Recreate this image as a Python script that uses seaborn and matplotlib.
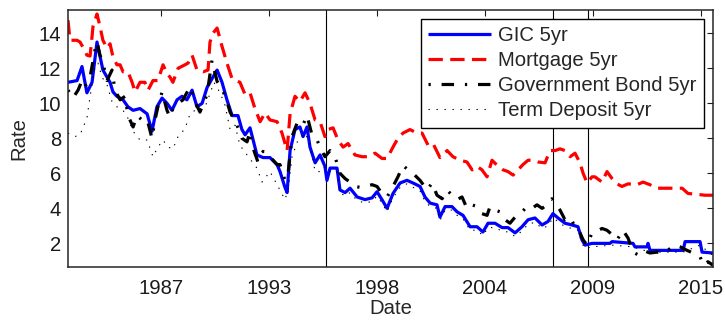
import numpy as np
import pandas as pd
import matplotlib
matplotlib.use("Agg")
import matplotlib.pyplot as plt
import matplotlib.dates as mdates
import seaborn as sns

# ---------------- data (decimal years, rates in %) ----------------
gic_year = [1983.00, 1983.46, 1983.71, 1983.96, 1984.22, 1984.47, 1984.77, 1985.13, 1985.28, 1985.48,
            1985.79, 1986.04, 1986.30, 1986.65, 1987.01, 1987.26, 1987.51, 1987.77, 1988.02, 1988.27,
            1988.53, 1988.78, 1989.03, 1989.29, 1989.54, 1989.80, 1990.05, 1990.35, 1990.56, 1990.81,
            1991.06, 1991.32, 1991.62, 1991.82, 1991.98, 1992.23, 1992.58, 1992.89, 1993.24, 1993.60,
            1993.75, 1994.00, 1994.11, 1994.26, 1994.51, 1994.76, 1994.92, 1995.12, 1995.27, 1995.53,
            1995.78, 1996.03, 1996.13, 1996.29, 1996.64, 1996.79, 1997.05, 1997.30, 1997.66, 1998.06,
            1998.42, 1998.67, 1998.92, 1999.18, 1999.48, 1999.84, 2000.19, 2000.49, 2000.85, 2001.10,
            2001.36, 2001.71, 2001.86, 2002.12, 2002.47, 2002.73, 2003.03, 2003.39, 2003.74, 2004.04,
            2004.30, 2004.65, 2005.01, 2005.31, 2005.67, 2006.02, 2006.33, 2006.68, 2007.04, 2007.34,
            2007.59, 2007.85, 2008.20, 2008.56, 2008.86, 2009.06, 2009.22, 2009.57, 2010.48, 2010.59,
            2011.65, 2011.75, 2012.36, 2012.41, 2012.51, 2014.19, 2014.29, 2015.05, 2015.15, 2015.71]
gic_rate = [11.2, 11.3, 12.1, 10.6, 11.2, 13.5, 11.9, 11.2, 10.65, 10.4,
            10.2, 9.8, 9.6, 9.7, 9.4, 8.4, 9.8, 10.3, 10.0, 9.6,
            10.2, 10.4, 10.2, 10.75, 9.8, 10.0, 10.9, 11.5, 11.9, 11.2,
            10.2, 9.3, 9.3, 8.5, 8.2, 8.6, 7.05, 6.9, 6.9, 6.5,
            6.1, 5.2, 4.9, 7.3, 8.5, 8.65, 8.1, 8.65, 7.5, 6.6,
            7.05, 6.4, 5.6, 6.3, 6.3, 5.05, 4.9, 5.15, 4.65, 4.5,
            4.6, 4.95, 4.5, 4.0, 4.85, 5.45, 5.6, 5.45, 5.25, 4.65,
            4.3, 4.2, 3.5, 4.1, 4.1, 3.8, 3.6, 2.95, 2.95, 2.65,
            3.15, 3.15, 2.9, 2.9, 2.6, 2.95, 3.35, 3.45, 3.05, 3.25,
            3.7, 3.45, 3.15, 3.05, 2.95, 2.2, 1.9, 2.0, 2.0, 2.1,
            2.0, 1.8, 1.8, 2.0, 1.6, 1.6, 2.1, 2.1, 1.5, 1.45]

mort_year = [1983.00, 1983.10, 1983.46, 1983.61, 1983.76, 1983.96, 1984.12, 1984.27, 1984.47, 1984.62,
             1984.77, 1984.98, 1985.13, 1985.28, 1985.48, 1985.64, 1985.79, 1986.04, 1986.25, 1986.40,
             1986.65, 1986.90, 1987.06, 1987.31, 1987.56, 1987.82, 1988.02, 1988.17, 1988.32, 1988.58,
             1988.93, 1989.09, 1989.29, 1989.54, 1989.85, 1990.10, 1990.20, 1990.35, 1990.56, 1990.81,
             1991.06, 1991.32, 1991.72, 1991.98, 1992.23, 1992.48, 1992.74, 1992.99, 1993.24, 1993.60,
             1993.85, 1994.11, 1994.26, 1994.51, 1994.76, 1995.02, 1995.27, 1995.53, 1995.78, 1996.03,
             1996.18, 1996.44, 1996.69, 1996.95, 1997.20, 1997.55, 1997.91, 1998.21, 1998.57, 1998.92,
             1999.18, 1999.48, 1999.73, 1999.99, 2000.34, 2000.70, 2000.95, 2001.26, 2001.51, 2001.86,
             2002.22, 2002.52, 2002.88, 2003.23, 2003.49, 2003.74, 2003.99, 2004.25, 2004.50, 2004.81,
             2005.06, 2005.31, 2005.57, 2005.82, 2006.07, 2006.33, 2006.58, 2006.83, 2007.19, 2007.44,
             2007.70, 2007.95, 2008.20, 2008.46, 2008.71, 2008.96, 2009.12, 2009.32, 2009.57, 2009.72,
             2010.08, 2010.33, 2010.59, 2010.84, 2011.09, 2011.40, 2011.85, 2012.16, 2012.51, 2012.87,
             2013.37, 2013.78, 2014.14, 2014.44, 2014.90, 2015.30, 2015.71]
mort_rate = [14.75, 13.6, 13.6, 13.5, 13.2, 12.75, 12.7, 14.4, 15.1, 14.4,
             13.6, 13.15, 13.4, 12.65, 12.2, 12.2, 11.8, 11.8, 11.2, 10.65,
             11.2, 11.2, 10.75, 11.3, 11.3, 12.2, 11.7, 11.5, 11.2, 12.0,
             12.2, 12.3, 12.75, 11.9, 11.8, 11.9, 13.5, 14.0, 14.3, 13.25,
             12.3, 11.4, 11.2, 10.5, 10.6, 9.7, 8.95, 9.45, 9.05, 8.95,
             8.3, 7.3, 9.4, 10.4, 10.1, 10.6, 10.0, 9.05, 8.95, 8.1,
             8.5, 8.6, 7.9, 7.5, 7.7, 7.05, 6.95, 6.95, 7.15, 6.85,
             6.85, 7.5, 8.0, 8.3, 8.5, 8.3, 8.3, 7.6, 7.7, 6.9,
             7.3, 6.95, 6.75, 6.65, 6.2, 6.4, 6.2, 5.8, 6.75, 6.4,
             6.2, 6.1, 5.9, 6.2, 6.5, 6.75, 6.75, 6.65, 6.6, 7.3,
             7.3, 7.4, 7.3, 6.95, 7.15, 6.6, 6.0, 5.45, 5.8, 5.8,
             5.5, 6.1, 5.7, 5.4, 5.25, 5.4, 5.35, 5.5, 5.35, 5.15,
             5.15, 5.15, 5.15, 4.85, 4.8, 4.75, 4.75]

bond_year = [1983.00, 1983.25, 1983.51, 1983.71, 1983.86, 1984.12, 1984.37, 1984.47, 1984.62, 1984.77,
             1984.98, 1985.23, 1985.38, 1985.64, 1985.89, 1986.04, 1986.30, 1986.50, 1986.75, 1987.01,
             1987.26, 1987.41, 1987.56, 1987.77, 1988.02, 1988.17, 1988.32, 1988.58, 1988.83, 1989.19,
             1989.44, 1989.69, 1990.05, 1990.30, 1990.56, 1990.81, 1991.06, 1991.22, 1991.57, 1991.82,
             1992.08, 1992.23, 1992.38, 1992.63, 1992.89, 1993.24, 1993.60, 1993.75, 1994.00, 1994.16,
             1994.36, 1994.61, 1994.87, 1995.12, 1995.37, 1995.63, 1995.78, 1996.03, 1996.29, 1996.54,
             1996.79, 1997.05, 1997.30, 1997.55, 1997.81, 1998.06, 1998.42, 1998.67, 1998.92, 1999.18,
             1999.48, 1999.73, 1999.99, 2000.24, 2000.49, 2000.85, 2001.21, 2001.46, 2001.71, 2001.97,
             2002.22, 2002.47, 2002.73, 2002.98, 2003.23, 2003.49, 2003.74, 2003.99, 2004.25, 2004.40,
             2004.65, 2004.91, 2005.16, 2005.41, 2005.67, 2006.02, 2006.28, 2006.53, 2006.78, 2007.04,
             2007.29, 2007.54, 2007.70, 2007.95, 2008.20, 2008.46, 2008.71, 2008.96, 2009.12, 2009.32,
             2009.57, 2009.72, 2010.08, 2010.33, 2010.59, 2010.84, 2011.14, 2011.40, 2011.65, 2011.90,
             2012.16, 2012.51, 2012.87, 2013.17, 2013.53, 2013.78, 2014.04, 2014.39, 2014.69, 2015.05,
             2015.20, 2015.45, 2015.71]
bond_rate = [10.75, 10.3, 10.75, 11.3, 10.95, 11.5, 13.05, 13.5, 12.75, 12.3,
             11.3, 11.9, 10.75, 10.2, 10.4, 9.3, 8.65, 9.3, 9.05, 9.1,
             8.0, 9.05, 9.8, 10.65, 9.6, 9.2, 9.7, 10.0, 10.2, 10.95,
             10.1, 9.5, 10.5, 12.45, 11.25, 10.85, 10.1, 9.5, 8.75, 8.0,
             7.8, 8.4, 7.45, 6.65, 7.25, 6.95, 6.5, 6.5, 5.6, 6.0,
             8.1, 8.85, 8.65, 9.3, 8.2, 7.9, 7.5, 6.95, 7.3, 6.95,
             6.0, 5.7, 5.5, 5.25, 5.2, 5.25, 5.35, 5.25, 4.85, 4.65,
             5.25, 5.8, 6.45, 6.2, 6.0, 5.6, 5.05, 5.45, 4.75, 4.55,
             5.05, 4.75, 4.5, 4.65, 4.0, 4.2, 4.1, 3.7, 3.6, 4.1,
             3.9, 3.8, 3.35, 3.15, 3.5, 3.8, 4.1, 4.0, 4.2, 4.0,
             4.2, 4.55, 4.3, 3.9, 3.35, 3.5, 2.95, 2.6, 2.2, 1.9,
             2.6, 2.65, 2.85, 2.75, 2.5, 2.2, 2.75, 2.3, 1.5, 1.35,
             1.6, 1.45, 1.5, 1.45, 1.7, 1.9, 1.8, 1.6, 1.45, 1.25,
             0.75, 0.95, 0.75]

term_year = [1983.00, 1983.35, 1983.61, 1983.96, 1984.12, 1984.37, 1984.52, 1984.72, 1984.98, 1985.23,
             1985.48, 1985.79, 1986.04, 1986.30, 1986.65, 1987.01, 1987.31, 1987.56, 1987.82, 1988.07,
             1988.32, 1988.58, 1988.93, 1989.19, 1989.44, 1989.69, 1989.95, 1990.20, 1990.40, 1990.71,
             1990.96, 1991.22, 1991.47, 1991.72, 1992.08, 1992.58, 1992.84, 1993.24, 1993.65, 1994.00,
             1994.16, 1994.36, 1994.66, 1995.02, 1995.27, 1995.53, 1995.88, 1996.03, 1996.29, 1996.64,
             1996.79, 1997.05, 1997.30, 1997.66, 1998.06, 1998.42, 1998.67, 1998.92, 1999.18, 1999.48,
             1999.84, 2000.19, 2000.49, 2000.85, 2001.10, 2001.36, 2001.71, 2001.86, 2002.12, 2002.47,
             2002.73, 2003.03, 2003.39, 2003.74, 2004.04, 2004.30, 2004.65, 2005.01, 2005.31, 2005.67,
             2006.02, 2006.33, 2006.68, 2007.04, 2007.34, 2007.59, 2007.85, 2008.20, 2008.56, 2008.86,
             2009.06, 2009.22, 2009.57, 2010.59, 2011.65, 2012.51, 2014.19, 2015.05, 2015.71]
term_rate = [8.3, 8.1, 8.2, 9.15, 10.4, 12.1, 12.3, 11.5, 11.05, 10.1,
             9.8, 9.6, 9.15, 8.4, 7.9, 7.9, 6.95, 7.5, 7.9, 7.5,
             7.4, 8.1, 8.55, 9.4, 9.6, 9.55, 9.8, 10.55, 11.2, 10.6,
             9.9, 8.5, 8.75, 7.6, 7.05, 6.3, 5.5, 6.1, 5.25, 4.5,
             5.05, 6.95, 7.9, 8.3, 7.7, 6.1, 6.1, 6.4, 6.1, 6.1,
             4.9, 4.7, 4.9, 4.45, 4.3, 4.4, 4.7, 4.3, 3.8, 4.6,
             5.2, 5.4, 5.2, 5.0, 4.4, 4.1, 4.0, 3.3, 3.9, 3.9,
             3.6, 3.4, 2.75, 2.75, 2.45, 2.9, 2.9, 2.7, 2.65, 2.4,
             2.7, 3.1, 3.2, 2.85, 3.0, 3.45, 3.25, 2.95, 2.85, 2.75,
             2.0, 1.7, 1.8, 1.9, 1.8, 1.5, 1.5, 1.9, 1.3]

series_names = ["GIC 5yr", "Mortgage 5yr", "Government Bond 5yr", "Term Deposit 5yr"]
break_dates = ["1996-01-26", "2007-08-05", "2009-05-14"]
tick_dates = ["1987-09-20", "1993-03-12", "1998-09-02", "2004-02-23", "2009-08-15", "2015-02-05"]
y_ticks = [2, 4, 6, 8, 10, 12, 14]
x_range = ["1983-01-01", "2015-09-16"]
y_range = [0.65, 15.33]


def to_date(years):
    out = []
    for y in years:
        yr = int(np.floor(y))
        start = pd.Timestamp(yr, 1, 1)
        end = pd.Timestamp(yr + 1, 1, 1)
        out.append(start + (end - start) * (y - yr))
    return pd.to_datetime(out)


sns.set_style("white")
plt.rcParams["font.family"] = ["Liberation Sans", "DejaVu Sans"]
plt.rcParams["axes.linewidth"] = 1.1

FS = 14.6

fig = plt.figure(figsize=(7.25, 3.2), dpi=100)
ax = fig.add_axes([68 / 725, 1 - 267 / 320, (713 - 68) / 725, (267 - 10) / 320])

styles = [
    dict(color="#0000ff", lw=2.3, dashes=None),
    dict(color="#ff0000", lw=2.3, dashes=(4.5, 2.3)),
    dict(color="#000000", lw=2.3, dashes=(0.7, 3.4, 3.9, 3.4)),
    dict(color="#000000", lw=0.8, dashes=(1.2, 6.0)),
]
data = [(gic_year, gic_rate), (mort_year, mort_rate), (bond_year, bond_rate), (term_year, term_rate)]

for (yrs, vals), name, st in zip(data, series_names, styles):
    df = pd.DataFrame({"Date": to_date(yrs), "Rate": vals})
    sns.lineplot(data=df, x="Date", y="Rate", ax=ax, label=name, estimator=None,
                 sort=True, color=st["color"], linewidth=st["lw"])
    ln = ax.get_lines()[-1]
    if st["dashes"] is not None:
        ln.set_dashes(st["dashes"])
    ln.set_solid_capstyle("butt")
    ln.set_dash_capstyle("butt")

for d in break_dates:
    ax.axvline(pd.Timestamp(d), color="black", lw=0.8, zorder=0.5)

ax.set_xlim(pd.Timestamp(x_range[0]), pd.Timestamp(x_range[1]))
ax.set_ylim(*y_range)
ax.set_xticks(pd.to_datetime(tick_dates))
ax.xaxis.set_major_formatter(mdates.DateFormatter("%Y"))
ax.set_yticks(y_ticks)
ax.tick_params(direction="in", top=True, right=True, length=4, width=0.8,
               labelsize=FS, colors="#1a1a1a")
ax.tick_params(axis="x", pad=9)
ax.tick_params(axis="y", pad=5)
for s in ax.spines.values():
    s.set_color("#262626")
ax.set_xlabel("Date", fontsize=FS, labelpad=0)
ax.set_ylabel("Rate", fontsize=FS, labelpad=7)

handles = ax.get_lines()[:4]
leg = ax.legend(handles, series_names, loc="upper right", fontsize=FS, frameon=True,
                fancybox=False, edgecolor="black", framealpha=1, handlelength=3.1,
                handletextpad=0.35, labelspacing=0.3, borderpad=0.35, borderaxespad=0.45)
leg.get_frame().set_linewidth(1.0)

fig.savefig("out.png", dpi=100)
